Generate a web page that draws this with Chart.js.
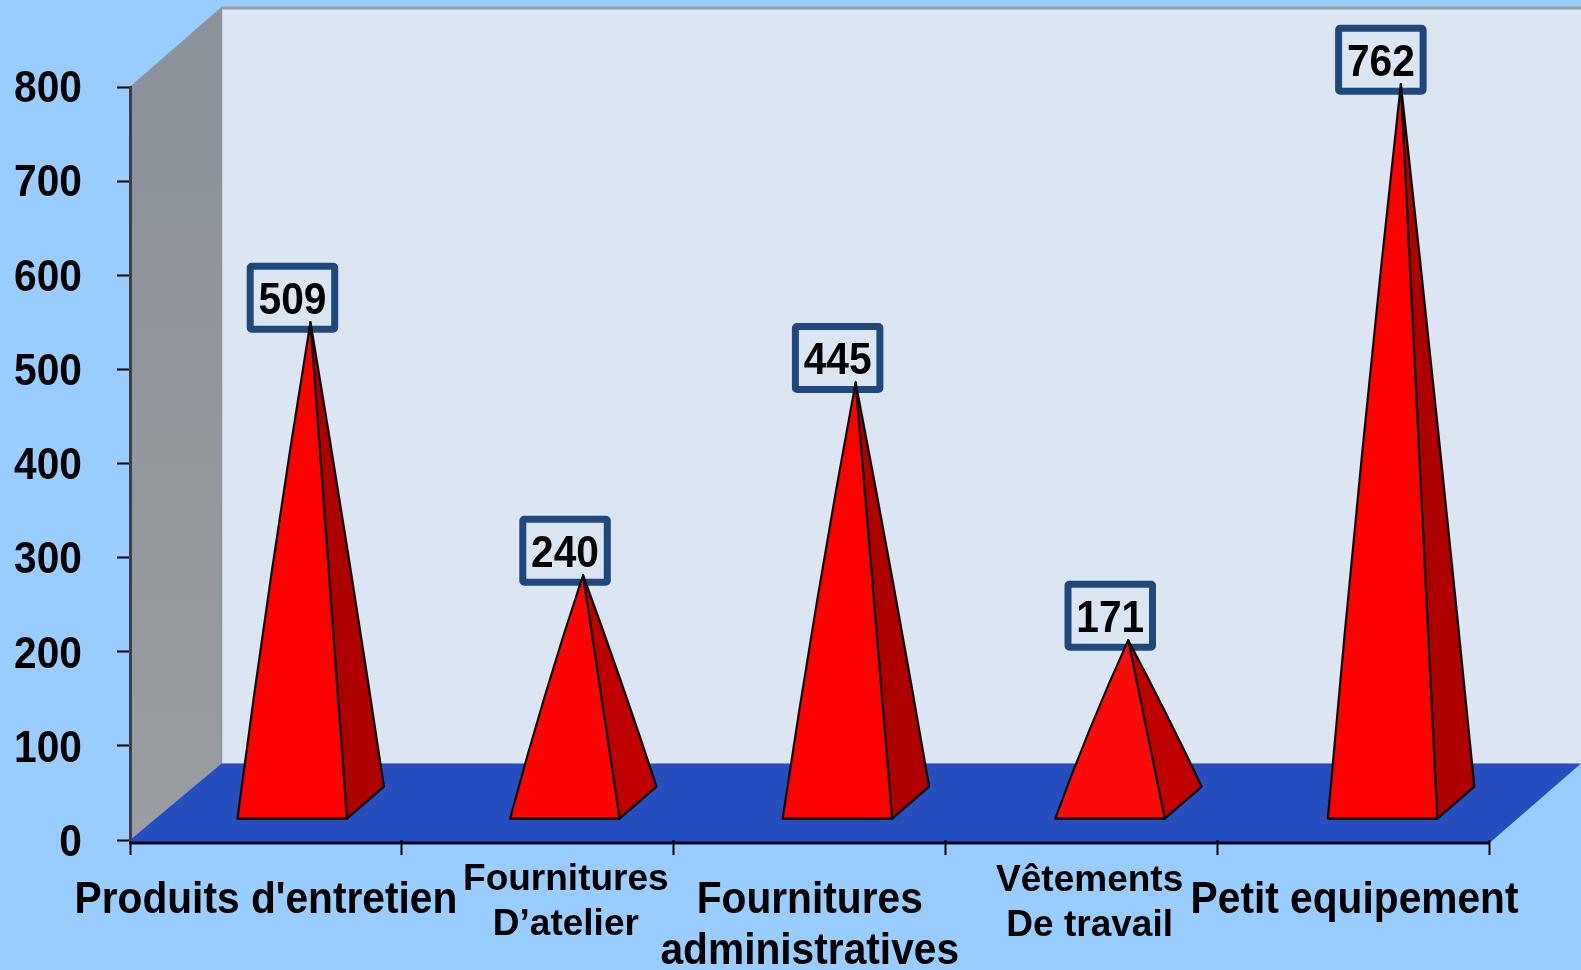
<!DOCTYPE html>
<html><head><meta charset="utf-8">
<style>html,body{margin:0;padding:0;background:#99CCFF;overflow:hidden}canvas{display:block}</style>
<script src="https://cdn.jsdelivr.net/npm/chart.js@4"></script>
</head><body><div style="width:1581px;height:970px"><canvas id="c" width="1581" height="970"></canvas></div>
<script>
const categories = [
  "Produits d'entretien",
  ["Fournitures", "D’atelier"],
  ["Fournitures", "administratives"],
  ["Vêtements", "De travail"],
  "Petit equipement"
];
const values = [509, 240, 445, 171, 762];
const frontColors = ['#FF0000', '#FF0404', '#FF0000', '#FF0A0A', '#FF0000'];
const sideColors = ['#AE0000', '#BE0000', '#AE0000', '#BE0000', '#AE0000'];
const yMax = 800, yStep = 100;
const labelSizes = [44, 37, 44, 37, 44];
const labelLineHeights = [1, 1.22, 1.16, 1.22, 1];
const labelNudgeX = [0, 28, 0, 8, 1];
const labelNudgeY = [4, -18, 0, -17, 4];
const yLabelNudge = [4, 4, 3.5, 3, 3, 3, 3, 2.5, 2];
const boxNudgeX = [0, 0, 0, 0, -2];
const FONT = '"Liberation Sans", Arial, sans-serif';
const DEPTH = {dx: 91.5, dy: -78};

// the reference's bold type is condensed: 44px glyphs are drawn at about 92% width
function condenseText(ctx) {
  const draw = ctx.fillText;
  ctx.fillText = function (t, x, y) {
    const k = this.font.indexOf('44px') >= 0 ? 0.925 : 1;
    this.save();
    this.translate(x, y);
    this.scale(k, 1);
    draw.call(this, t, 0, 0);
    this.restore();
  };
}

const scene = {
  id: 'scene',
  beforeInit(chart) { condenseText(chart.ctx); },
  beforeDraw(chart) {
    const {ctx, chartArea: a} = chart;
    ctx.save();
    ctx.fillStyle = '#99CCFF';
    ctx.fillRect(0, 0, chart.width, chart.height);
    const bx = a.left + DEPTH.dx, top = a.top - 79.5, by = a.bottom + DEPTH.dy + 1.5;
    // back wall
    ctx.fillStyle = '#DCE6F2';
    ctx.fillRect(bx, top, chart.width - bx, by - top);
    ctx.strokeStyle = '#9a9fa6'; ctx.lineWidth = 3;
    ctx.beginPath(); ctx.moveTo(bx, top); ctx.lineTo(chart.width, top); ctx.stroke();
    // side wall
    const g = ctx.createLinearGradient(0, a.top, 0, a.bottom);
    g.addColorStop(0, '#8B9299'); g.addColorStop(1, '#9A9DA1');
    ctx.fillStyle = g;
    ctx.beginPath();
    ctx.moveTo(a.left, a.top); ctx.lineTo(bx, top); ctx.lineTo(bx, by); ctx.lineTo(a.left, a.bottom);
    ctx.closePath(); ctx.fill();
    ctx.strokeStyle = '#8f959b'; ctx.lineWidth = 1.5;
    ctx.beginPath(); ctx.moveTo(a.left, a.top); ctx.lineTo(bx, top); ctx.lineTo(bx, by); ctx.stroke();
    // floor
    ctx.fillStyle = '#264EBF';
    ctx.beginPath();
    ctx.moveTo(a.left, a.bottom + 3); ctx.lineTo(a.left, a.bottom); ctx.lineTo(bx, by);
    ctx.lineTo(a.right + DEPTH.dx, by); ctx.lineTo(a.right, a.bottom + 3);
    ctx.closePath(); ctx.fill();
    // front edge of the floor
    ctx.strokeStyle = '#05081a'; ctx.lineWidth = 3;
    ctx.beginPath(); ctx.moveTo(a.left - 1, a.bottom + 3); ctx.lineTo(a.right, a.bottom + 3); ctx.stroke();
    ctx.restore();
  },
  afterLayout(chart) {
    chart.scales.x.getLabelItems().forEach((it, i) => {
      it.options.translation[0] += labelNudgeX[i];
      it.options.translation[1] += labelNudgeY[i];
    });
    chart.scales.y.getLabelItems().forEach((it, i) => {
      it.options.translation[1] += yLabelNudge[i];
    });
  },
  beforeDatasetDraw(chart, args) {
    const {ctx, scales} = chart;
    const meta = args.meta;
    const ds = chart.data.datasets[args.index];
    const y0 = scales.y.getPixelForValue(0);
    ctx.save();
    ctx.lineJoin = 'round';
    meta.data.forEach((bar, i) => {
      const x = bar.x + 0.7 * i;
      const ax = x + 44.5, ay = bar.y - 39;
      // value label
      const bw = 91.5, bh = 70, lw = 7;
      const cx = ax - 18 + boxNudgeX[i], bottom = ay + 10.5;
      ctx.fillStyle = '#DCE6F2';
      ctx.strokeStyle = '#1F497D'; ctx.lineWidth = lw;
      ctx.beginPath();
      ctx.roundRect(cx - bw / 2 + lw / 2, bottom - bh + lw / 2, bw - lw, bh - lw, 1.5);
      ctx.fill(); ctx.stroke();
      ctx.fillStyle = '#000';
      ctx.font = 'bold 44px ' + FONT;
      ctx.textAlign = 'center'; ctx.textBaseline = 'middle';
      ctx.fillText(String(values[i]), cx, bottom - bh / 2 + 4);
      // pyramid
      const fl = x - 28.5, fr = x + 81, fy = y0 - 21.3;
      const brx = fr + 37, bry = fy - 32;
      ctx.strokeStyle = ds.borderColor; ctx.lineWidth = 2.2;
      ctx.fillStyle = ds.sideColor[i];
      ctx.beginPath(); ctx.moveTo(fr, fy); ctx.lineTo(brx, bry);
      ctx.quadraticCurveTo((brx + ax) / 2 + 2, (bry + ay) / 2, ax, ay); ctx.closePath();
      ctx.fill(); ctx.stroke();
      ctx.fillStyle = ds.backgroundColor[i];
      ctx.beginPath(); ctx.moveTo(fl, fy); ctx.lineTo(fr, fy); ctx.lineTo(ax, ay);
      ctx.quadraticCurveTo((fl + ax) / 2 - 4, (fy + ay) / 2, fl, fy); ctx.closePath();
      ctx.fill(); ctx.stroke();
    });
    ctx.restore();
    return false;
  }
};

new Chart(document.getElementById('c'), {
  type: 'bar',
  data: {
    labels: categories,
    datasets: [{
      label: 'Valeur',
      data: values,
      backgroundColor: frontColors,
      sideColor: sideColors,
      borderColor: '#0a0a0a'
    }]
  },
  plugins: [scene],
  options: {
    responsive: false,
    animation: false,
    layout: {padding: {top: 87.5, right: 91.5, left: 0, bottom: 0}},
    plugins: {legend: {display: false}, title: {display: false}, tooltip: {enabled: false}},
    scales: {
      x: {
        type: 'category',
        offset: true,
        afterFit(s) { s.height = 130; },
        border: {display: false},
        grid: {display: true, drawOnChartArea: false, drawTicks: true, offset: true, tickLength: 15, tickWidth: 2, tickColor: '#000'},
        ticks: {
          autoSkip: false, maxRotation: 0, minRotation: 0, padding: 20, color: '#000',
          font: c => ({family: FONT, weight: 'bold', size: labelSizes[c.index], lineHeight: labelLineHeights[c.index]})
        }
      },
      y: {
        type: 'linear',
        min: 0, max: yMax,
        afterFit(s) { s.width = 130; },
        border: {display: true, color: '#3c3f44', width: 3},
        grid: {display: true, drawOnChartArea: false, drawTicks: true, tickLength: 13, tickWidth: 2, tickColor: '#000'},
        ticks: {stepSize: yStep, padding: 35, color: '#000', font: {family: FONT, weight: 'bold', size: 44}}
      }
    }
  }
});
</script></body></html>
